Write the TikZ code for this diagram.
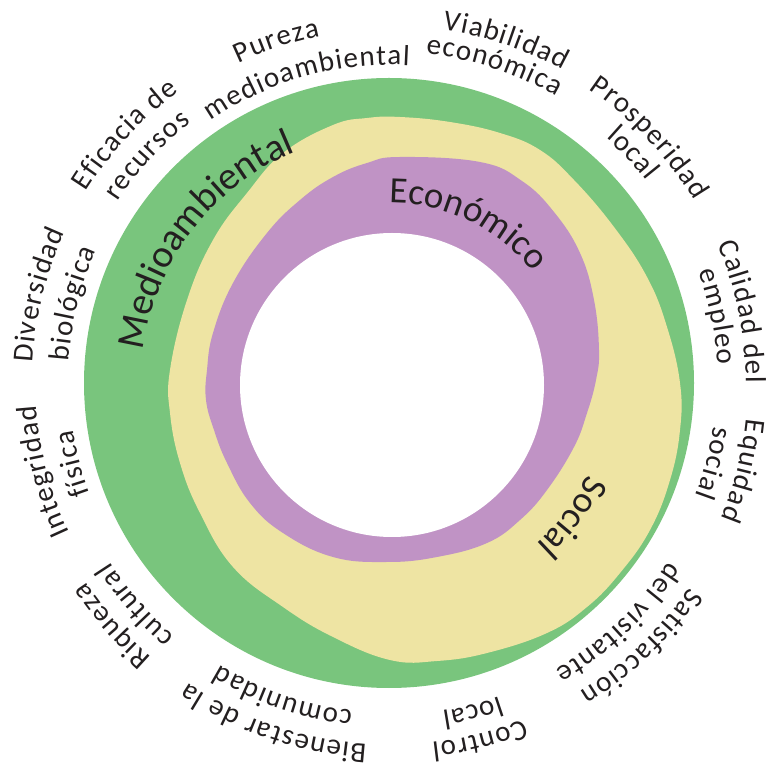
\documentclass[tikz,border=0pt]{standalone}
\usepackage{fontspec}
\setmainfont{Carlito}
\newfontfamily\labfont{Carlito}
\usetikzlibrary{decorations.text}
\definecolor{ringgreen}{RGB}{121,197,125}
\definecolor{ringyellow}{RGB}{238,228,163}
\definecolor{ringpurple}{RGB}{192,147,197}
\definecolor{inkc}{RGB}{35,31,32}
\newcommand{\ringtext}[4]{%
  \path[shift={(391,386)},decorate,decoration={text along path,text color=inkc,text align=center,
    text={|\labfont\fontsize{#3}{#3}\selectfont|#4}}]
    ({#1+45}:#2) arc[start angle={#1+45},end angle={#1-45},radius=#2];}
\newcommand{\trackedtext}[4]{%
  \path[shift={(391,386)},decorate,decoration={text effects along path,text={#4},text align=center,
    text effects/.cd,
    characters={text=inkc,font=\labfont\fontsize{#3}{#3}\selectfont,inner sep=0pt},
    character widths={font=\labfont\fontsize{#3}{#3}\selectfont,inner xsep=0.6pt},
    text along path}]
    ({#1+45}:#2) arc[start angle={#1+45},end angle={#1-45},radius=#2];}
\begin{document}
\begin{tikzpicture}[x=1pt,y=1pt]
\useasboundingbox (0,0) rectangle (774,769);
\fill[ringgreen] (389,386) circle[radius=305];
\fill[ringyellow] plot[smooth cycle,tension=0.7] coordinates {(400,652) (450,647) (500,636) (540,619) (574,589) (614,542) (647,492) (667,442) (680,386) (680,339) (670,289) (650,239) (620,196) (587,162) (547,136) (487,116) (437,108) (390,109) (333,132) (283,162) (233,202) (200,256) (180,306) (170,356) (170,399) (187,469) (213,529) (247,576) (283,616) (333,644) (367,651)};
\fill[ringpurple] plot[smooth cycle,tension=0.7] coordinates {(400,612) (480,607) (522,588) (554,557) (580,516) (594,469) (599,419) (596,389) (587,356) (574,322) (547,279) (520,249) (487,226) (437,212) (387,207) (333,212) (283,236) (250,266) (227,306) (214,339) (206,369) (207,399) (213,436) (233,486) (267,536) (300,569) (333,592) (367,606)};
\fill[white] (392,384) circle[radius=152];
\trackedtext{108.5}{354}{29}{Pureza}
\trackedtext{105.6}{318}{29}{medioambiental}
\trackedtext{71.5}{357}{29}{Viabilidad}
\trackedtext{72}{331}{29}{económica}
\trackedtext{43.5}{354}{29}{Prosperidad}
\trackedtext{43.5}{326}{29}{local}
\trackedtext{11.5}{355}{29}{Calidad del}
\trackedtext{11.5}{327}{29}{empleo}
\trackedtext{-14}{357}{29}{Equidad}
\trackedtext{-14}{325}{29}{social}
\trackedtext{-46.5}{362}{29}{Satisfacción}
\trackedtext{-46.5}{330}{29}{del visitante}
\trackedtext{-76}{362}{29}{Control}
\trackedtext{-76}{332}{29}{local}
\trackedtext{-109}{362}{29}{Bienestar de la}
\trackedtext{-109}{330}{29}{comunidad}
\trackedtext{-139}{364}{29}{Riqueza}
\trackedtext{-139}{333}{29}{cultural}
\trackedtext{194.3}{355}{29}{Integridad}
\trackedtext{194.3}{321}{29}{física}
\trackedtext{166}{359}{29}{Diversidad}
\trackedtext{166}{323}{29}{biológica}
\trackedtext{137}{360}{29}{Eficacia de}
\trackedtext{137}{328}{29}{recursos}
\ringtext{142.4}{250}{39}{Medioambiental}
\ringtext{64.3}{180}{37}{Económico}
\ringtext{-36.5}{217}{37}{Social}
\end{tikzpicture}
\end{document}
